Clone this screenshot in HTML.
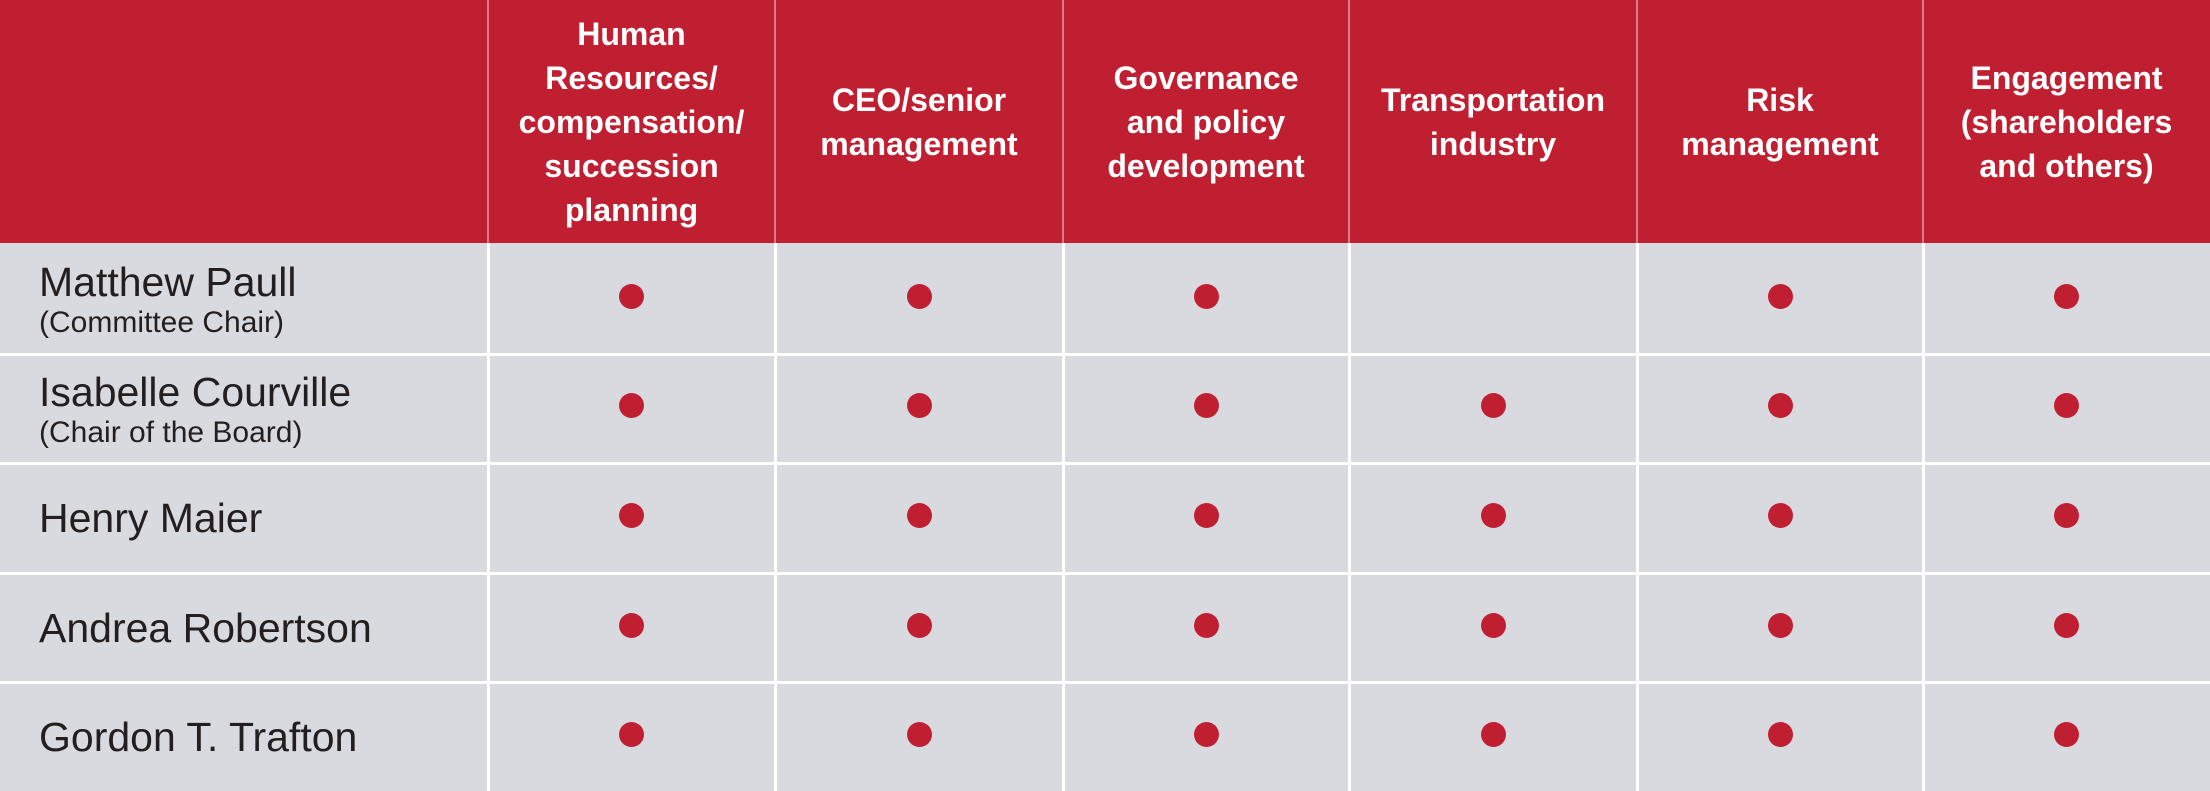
<!DOCTYPE html>
<html><head><meta charset="utf-8"><style>
html,body{margin:0;padding:0;}
body{width:2210px;height:791px;position:relative;overflow:hidden;background:#fff;font-family:"Liberation Sans",sans-serif;}
#hdr{position:absolute;left:0;top:0;width:2210px;height:243px;background:#c01f31;}
.hc{position:absolute;top:0;height:243px;display:flex;align-items:center;justify-content:center;text-align:center;color:#fff;font-family:"Liberation Sans Narrow","Liberation Sans",sans-serif;font-weight:bold;font-size:32px;line-height:44px;}
.vl{position:absolute;width:2px;}
.row{position:absolute;left:0;width:2210px;background:#d9dae0;}
.name{position:absolute;left:39px;color:#231f20;}
.nm{font-size:41px;line-height:46px;}
.sub{font-size:30px;line-height:36px;}
.dot{position:absolute;width:25px;height:25px;border-radius:50%;background:#c01f31;}
</style></head><body>
<div id="hdr"></div>
<div id="root"></div>
<script>
const columns=["Human<br>Resources/<br>compensation/<br>succession<br>planning","CEO/senior<br>management","Governance<br>and policy<br>development","Transportation<br>industry","Risk<br>management","Engagement<br>(shareholders<br>and others)"];
const columnKeys=["hr","ceo","governance","transportation","risk","engagement"];
const people=["Matthew Paull","Isabelle Courville","Henry Maier","Andrea Robertson","Gordon T. Trafton"];
const roles=["(Committee Chair)","(Chair of the Board)","","",""];
const hasSkill=[
[1,1,1,0,1,1],
[1,1,1,1,1,1],
[1,1,1,1,1,1],
[1,1,1,1,1,1],
[1,1,1,1,1,1]];
const colEdges=[488,775,1063,1349,1637,1923,2210];
const headerH=243, rowH=109.6;
const body=document.body;
function colX(i){return colEdges[i];}
function colW(i){return colEdges[i+1]-colEdges[i];}
function rowY(r){return headerH+r*rowH;}
// rows
people.forEach((p,r)=>{
  const row=document.createElement('div');
  
  
  row.className='row';
  row.style.top=(rowY(r)+(r?3:0))+'px';
  row.style.height=(rowH-(r?3:0))+'px';
  body.appendChild(row);
  const n=document.createElement('div');
  
  
  n.className='name';
  if(roles[r]){n.innerHTML='<div class="nm">'+p+'</div><div class="sub">'+roles[r]+'</div>';n.style.top=(rowY(r)+16)+'px';}
  else{n.innerHTML='<div class="nm">'+p+'</div>';n.style.top=(rowY(r)+rowH/2-22)+'px';}
  body.appendChild(n);
});
// header cells
columns.forEach((c,i)=>{
  const h=document.createElement('div');
  
  
  h.className='hc';
  h.style.left=colX(i)+'px';h.style.width=colW(i)+'px';
  h.innerHTML='<div>'+c+'</div>';
  body.appendChild(h);
});
// vertical lines
for(let i=0;i<6;i++){
  const v=document.createElement('div');
  
  
  v.className='vl';v.style.left=(colX(i)-1)+'px';v.style.top='0px';v.style.height=headerH+'px';v.style.background='#d97a85';
  body.appendChild(v);
  const v2=document.createElement('div');
  
  
  v2.className='vl';v2.style.left=(colX(i)-1)+'px';v2.style.top=headerH+'px';v2.style.height=(791-headerH)+'px';v2.style.background='#ffffff';v2.style.width='3px';
  body.appendChild(v2);
}
// dots
hasSkill.forEach((rowVals,r)=>{
  rowVals.forEach((v,i)=>{
    if(!v)return;
    const d=document.createElement('div');
    
    
    d.className='dot';
    d.style.left=(colX(i)+colW(i)/2-12.5)+'px';
    d.style.top=(rowY(r)+rowH/2-14)+'px';
    body.appendChild(d);
  });
});
</script>
</body></html>
